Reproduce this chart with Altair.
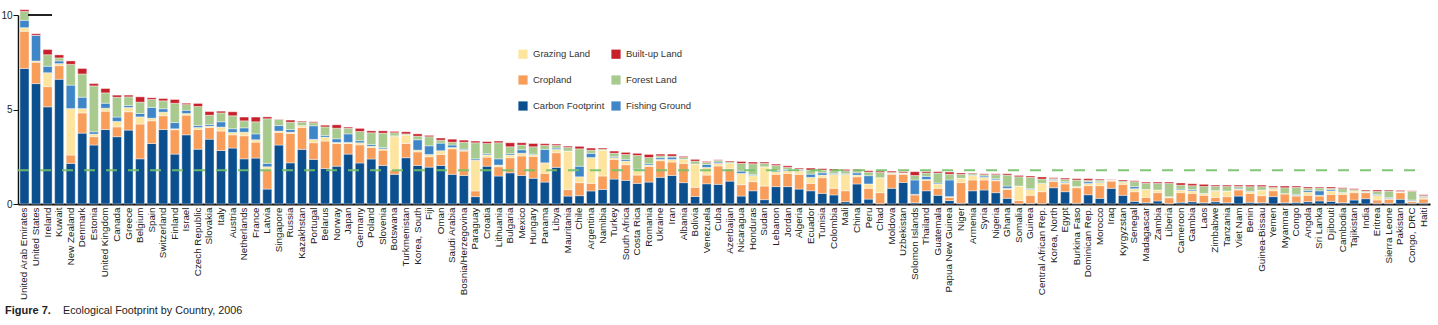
import altair as alt
import pandas as pd

countries = [
    "United Arab Emirates", "United States", "Ireland", "Kuwait", "New Zealand", "Denmark", "Estonia", "United Kingdom", "Canada", "Greece",
    "Belgium", "Spain", "Switzerland", "Finland", "Israel", "Czech Republic", "Slovakia", "Italy", "Austria", "Netherlands",
    "France", "Latvia", "Singapore", "Russia", "Kazakhstan", "Portugal", "Belarus", "Norway", "Japan", "Germany",
    "Poland", "Slovenia", "Botswana", "Turkmenistan", "Korea, South", "Fiji", "Oman", "Saudi Arabia", "Bosnia/Herzegovina", "Paraguay",
    "Croatia", "Lithuania", "Bulgaria", "Mexico", "Hungary", "Panama", "Libya", "Mauritania", "Chile", "Argentina",
    "Namibia", "Turkey", "South Africa", "Costa Rica", "Romania", "Ukraine", "Iran", "Albania", "Bolivia", "Venezuela",
    "Cuba", "Azerbaijan", "Nicaragua", "Honduras", "Sudan", "Lebanon", "Jordan", "Algeria", "Ecuador", "Tunisia",
    "Colombia", "Mali", "China", "Peru", "Chad", "Moldova", "Uzbekistan", "Solomon Islands", "Thailand", "Guatemala",
    "Papua New Guinea", "Niger", "Armenia", "Syria", "Nigeria", "Ghana", "Somalia", "Guinea", "Central African Rep.", "Korea, North",
    "Egypt", "Burkina Faso", "Dominican Rep.", "Morocco", "Iraq", "Kyrgyzstan", "Senegal", "Madagascar", "Zambia", "Liberia",
    "Cameroon", "Gambia", "Laos", "Zimbabwe", "Tanzania", "Viet Nam", "Benin", "Guinea-Bissau", "Yemen", "Myanmar",
    "Congo", "Angola", "Sri Lanka", "Djibouti", "Cambodia", "Tajikistan", "India", "Eritrea", "Sierra Leone", "Pakistan",
    "Congo, DRC", "Haiti",
]

carbon = [
    7.17, 6.37, 5.14, 6.60, 2.15, 3.75, 3.12, 3.94, 3.56, 3.91,
    2.39, 3.20, 3.94, 2.64, 3.66, 2.90, 3.43, 2.83, 2.96, 2.39,
    2.43, 0.79, 3.12, 2.18, 2.89, 2.36, 1.88, 2.00, 2.64, 2.17,
    2.38, 2.04, 1.57, 2.45, 2.04, 1.95, 2.04, 1.57, 1.51, 0.39,
    2.00, 1.48, 1.65, 1.51, 1.36, 1.16, 1.94, 0.42, 0.44, 0.69,
    0.77, 1.32, 1.25, 1.09, 1.16, 1.41, 1.51, 1.13, 0.40, 1.07,
    1.04, 1.21, 0.42, 0.70, 0.23, 0.92, 0.92, 0.79, 0.70, 0.56,
    0.48, 0.12, 1.06, 0.26, 0.02, 0.83, 1.14, 0.07, 0.70, 0.46,
    0.18, 0.04, 0.70, 0.74, 0.60, 0.30, 0.02, 0.03, 0.02, 0.86,
    0.65, 0.04, 0.49, 0.30, 0.83, 0.46, 0.14, 0.07, 0.16, 0.02,
    0.09, 0.12, 0.07, 0.12, 0.07, 0.42, 0.09, 0.07, 0.39, 0.07,
    0.09, 0.12, 0.16, 0.14, 0.07, 0.21, 0.28, 0.04, 0.04, 0.25,
    0.04, 0.05,
]
cropland = [
    1.97, 1.13, 1.07, 0.72, 0.44, 1.07, 0.44, 0.97, 0.52, 0.97,
    1.84, 1.20, 0.73, 1.29, 1.04, 1.04, 0.62, 1.03, 0.70, 1.22,
    0.84, 1.01, 0.67, 1.55, 1.16, 0.88, 1.45, 1.20, 0.56, 0.96,
    0.61, 0.81, 0.23, 0.75, 0.72, 0.55, 0.58, 1.35, 1.29, 0.30,
    0.48, 0.49, 0.80, 1.03, 1.16, 0.46, 0.77, 0.34, 0.69, 0.40,
    0.71, 1.04, 0.83, 0.44, 0.83, 0.88, 0.71, 1.02, 0.48, 0.46,
    0.97, 0.66, 0.60, 0.48, 0.72, 0.65, 0.70, 0.78, 0.39, 0.83,
    0.35, 0.58, 0.38, 0.57, 0.58, 0.74, 0.43, 0.41, 0.55, 0.37,
    0.17, 1.09, 0.57, 0.53, 0.63, 0.47, 0.16, 0.43, 0.63, 0.34,
    0.41, 0.82, 0.48, 0.67, 0.38, 0.58, 0.51, 0.28, 0.44, 0.31,
    0.51, 0.44, 0.39, 0.23, 0.32, 0.32, 0.47, 0.37, 0.31, 0.46,
    0.33, 0.34, 0.26, 0.37, 0.44, 0.39, 0.32, 0.17, 0.21, 0.35,
    0.10, 0.21,
]
grazing = [
    0.19, 0.07, 0.74, 0.11, 2.46, 0.23, 0.14, 0.16, 0.29, 0.23,
    0.38, 0.14, 0.19, 0.05, 0.09, 0.11, 0.07, 0.21, 0.13, 0.19,
    0.13, 0.17, 0.07, 0.07, 0.10, 0.18, 0.21, 0.06, 0.06, 0.11,
    0.07, 0.07, 1.79, 0.46, 0.09, 0.12, 0.20, 0.07, 0.05, 1.63,
    0.12, 0.09, 0.14, 0.15, 0.09, 0.56, 0.18, 2.04, 0.31, 1.37,
    1.37, 0.09, 0.19, 0.27, 0.07, 0.07, 0.14, 0.21, 1.23, 0.41,
    0.14, 0.28, 0.60, 0.33, 1.02, 0.14, 0.14, 0.19, 0.32, 0.14,
    0.74, 0.87, 0.09, 0.23, 0.79, 0.05, 0.05, 0.03, 0.05, 0.23,
    0.04, 0.23, 0.23, 0.14, 0.05, 0.06, 0.77, 0.31, 0.44, 0.05,
    0.07, 0.06, 0.12, 0.17, 0.06, 0.10, 0.16, 0.42, 0.14, 0.04,
    0.14, 0.14, 0.10, 0.35, 0.30, 0.05, 0.09, 0.30, 0.11, 0.02,
    0.04, 0.17, 0.04, 0.18, 0.09, 0.10, 0.03, 0.25, 0.05, 0.03,
    0.03, 0.09,
]
fishing = [
    0.39, 1.36, 0.34, 0.14, 1.24, 0.60, 0.12, 0.26, 0.23, 0.10,
    0.18, 0.57, 0.18, 0.33, 0.17, 0.10, 0.09, 0.28, 0.19, 0.23,
    0.31, 0.18, 0.29, 0.14, 0.00, 0.72, 0.09, 0.19, 0.45, 0.11,
    0.09, 0.07, 0.02, 0.00, 0.55, 0.46, 0.40, 0.13, 0.05, 0.07,
    0.06, 0.33, 0.07, 0.18, 0.03, 0.71, 0.07, 0.00, 0.56, 0.22,
    0.00, 0.05, 0.09, 0.05, 0.07, 0.09, 0.12, 0.00, 0.00, 0.15,
    0.07, 0.00, 0.12, 0.04, 0.00, 0.07, 0.07, 0.04, 0.17, 0.12,
    0.05, 0.03, 0.12, 0.44, 0.00, 0.00, 0.00, 0.76, 0.16, 0.05,
    0.88, 0.00, 0.02, 0.07, 0.06, 0.12, 0.00, 0.04, 0.00, 0.05,
    0.05, 0.00, 0.09, 0.04, 0.00, 0.00, 0.11, 0.00, 0.00, 0.02,
    0.05, 0.07, 0.00, 0.02, 0.00, 0.05, 0.02, 0.00, 0.00, 0.00,
    0.05, 0.09, 0.24, 0.07, 0.02, 0.00, 0.01, 0.05, 0.05, 0.00,
    0.04, 0.04,
]
forest = [
    0.47, 0.00, 0.61, 0.16, 1.10, 1.23, 2.43, 0.55, 1.05, 0.46,
    0.60, 0.42, 0.42, 1.02, 0.30, 1.01, 0.49, 0.47, 0.69, 0.37,
    0.64, 2.36, 0.32, 0.39, 0.18, 0.16, 0.45, 0.56, 0.30, 0.49,
    0.62, 0.76, 0.16, 0.05, 0.19, 0.48, 0.16, 0.15, 0.37, 0.85,
    0.54, 0.85, 0.37, 0.25, 0.39, 0.21, 0.14, 0.19, 0.92, 0.17,
    0.05, 0.19, 0.26, 0.72, 0.33, 0.10, 0.05, 0.10, 0.16, 0.11,
    0.09, 0.07, 0.41, 0.58, 0.18, 0.26, 0.11, 0.05, 0.22, 0.15,
    0.14, 0.16, 0.11, 0.19, 0.28, 0.05, 0.03, 0.24, 0.18, 0.53,
    0.31, 0.21, 0.08, 0.07, 0.21, 0.58, 0.49, 0.60, 0.23, 0.04,
    0.12, 0.35, 0.07, 0.09, 0.01, 0.07, 0.26, 0.33, 0.35, 0.70,
    0.21, 0.20, 0.37, 0.21, 0.24, 0.09, 0.25, 0.18, 0.07, 0.31,
    0.37, 0.11, 0.15, 0.07, 0.19, 0.06, 0.05, 0.16, 0.34, 0.04,
    0.46, 0.05,
]
builtup = [
    0.09, 0.08, 0.27, 0.16, 0.18, 0.29, 0.12, 0.23, 0.11, 0.09,
    0.28, 0.09, 0.12, 0.20, 0.07, 0.16, 0.19, 0.09, 0.21, 0.20,
    0.25, 0.10, 0.02, 0.11, 0.05, 0.05, 0.09, 0.18, 0.06, 0.16,
    0.10, 0.12, 0.07, 0.11, 0.12, 0.07, 0.11, 0.16, 0.11, 0.09,
    0.10, 0.09, 0.21, 0.12, 0.17, 0.09, 0.07, 0.07, 0.13, 0.11,
    0.06, 0.11, 0.11, 0.11, 0.16, 0.09, 0.11, 0.06, 0.09, 0.05,
    0.03, 0.05, 0.10, 0.09, 0.07, 0.07, 0.08, 0.05, 0.10, 0.07,
    0.09, 0.07, 0.07, 0.07, 0.07, 0.07, 0.06, 0.20, 0.07, 0.07,
    0.11, 0.07, 0.04, 0.05, 0.05, 0.07, 0.07, 0.07, 0.11, 0.05,
    0.07, 0.07, 0.09, 0.05, 0.02, 0.06, 0.05, 0.06, 0.07, 0.07,
    0.11, 0.10, 0.11, 0.07, 0.07, 0.07, 0.08, 0.08, 0.07, 0.09,
    0.07, 0.07, 0.05, 0.07, 0.05, 0.05, 0.05, 0.07, 0.05, 0.05,
    0.03, 0.05,
]

# stacking order (bottom -> top)
components = ["Carbon Footprint", "Cropland", "Grazing Land", "Fishing Ground", "Forest Land", "Built-up Land"]
series = [carbon, cropland, grazing, fishing, forest, builtup]
# legend order (filled column by column, 2 columns x 3 rows)
legend_order = ["Grazing Land", "Cropland", "Carbon Footprint", "Built-up Land", "Forest Land", "Fishing Ground"]
legend_colors = ["#fde5a0", "#f89d5a", "#0b4f8f", "#c8202b", "#a8ca8e", "#3f86c8"]

world_biocapacity = 1.78
title_bold = "Figure 7."
title_rest = "Ecological Footprint by Country, 2006"

rows = []
for k, (name, vals) in enumerate(zip(components, series)):
    assert len(vals) == len(countries)
    for c, v in zip(countries, vals):
        rows.append({"country": c, "component": name, "value": v, "stack": k})
df = pd.DataFrame(rows)

W, H = 1412, 189
FONT = "Liberation Sans"

bars = alt.Chart(df).mark_bar(stroke="white", strokeWidth=0.5, strokeOpacity=0.8).encode(
    x=alt.X("country:N", sort=countries, title=None,
            scale=alt.Scale(paddingInner=0.22, paddingOuter=0.17),
            axis=alt.Axis(labelAngle=-90, labelFontSize=9.8, labelFont=FONT, labelColor="#222222",
                          labelOverlap=False, labelPadding=3, labelLimit=200, ticks=False,
                          domainColor="#111111", domainWidth=2)),
    y=alt.Y("value:Q", stack="zero", title=None,
            scale=alt.Scale(domain=[0, 10], nice=False, zero=True),
            axis=alt.Axis(values=[0, 5, 10], labelFontSize=10, labelFont=FONT, labelColor="#222222",
                          grid=False, tickSize=5, tickColor="#111111", labelPadding=1,
                          domainColor="#111111", domainWidth=1.5)),
    color=alt.Color("component:N", scale=alt.Scale(domain=legend_order, range=legend_colors),
                    legend=alt.Legend(title=None, orient="none", legendX=500, legendY=34, columns=2,
                                      columnPadding=6, rowPadding=16, symbolType="square",
                                      symbolSize=85, symbolStrokeWidth=0, labelFontSize=9.5,
                                      labelFont=FONT, labelColor="#333333", labelOffset=5, padding=0)),
    order=alt.Order("stack:Q", sort="ascending"),
)

line_df = pd.DataFrame({"v": [world_biocapacity]})
dash = alt.Chart(line_df).mark_rule(color="#74c069", strokeWidth=2, strokeDash=[11, 11], opacity=0.9).encode(
    y="v:Q", x=alt.value(0), x2=alt.value(W - 15)
)

top_df = pd.DataFrame({"v": [10]})
topline = alt.Chart(top_df).mark_rule(color="#222222", strokeWidth=2).encode(
    y="v:Q", x=alt.value(10), x2=alt.value(34)
)

t1 = alt.Chart(pd.DataFrame({"t": [title_bold]})).mark_text(
    align="left", baseline="middle", fontSize=11, fontWeight="bold", font=FONT, color="#222222"
).encode(text="t:N", x=alt.value(-13), y=alt.value(H + 107))
t2 = alt.Chart(pd.DataFrame({"t": [title_rest]})).mark_text(
    align="left", baseline="middle", fontSize=10.8, font=FONT, color="#222222"
).encode(text="t:N", x=alt.value(45), y=alt.value(H + 107))

chart = alt.layer(bars, dash, topline, t1, t2).properties(
    width=W, height=H,
    background="white",
    autosize=alt.AutoSizeParams(type="none"),
    padding={"left": 18, "top": 15, "right": 8, "bottom": 121},
).configure_view(stroke=None)

chart.save("out.html", embed_options={"renderer": "svg", "actions": False})
